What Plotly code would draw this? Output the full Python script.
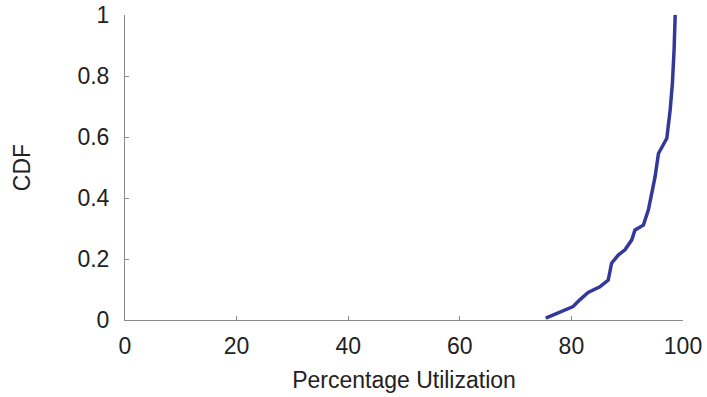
import plotly.graph_objects as go

# CDF of percentage utilization
utilization = [75.4, 77.6, 80.3, 81.5, 83.0, 85.1, 86.6, 87.2, 88.4, 89.6, 90.8,
               91.4, 92.9, 93.8, 94.4, 95.0, 95.6, 96.5, 97.1, 97.7, 98.1, 98.4, 98.6]
cdf = [0.006, 0.024, 0.044, 0.066, 0.090, 0.109, 0.131, 0.186, 0.213, 0.230, 0.262,
       0.295, 0.311, 0.361, 0.415, 0.470, 0.546, 0.579, 0.596, 0.689, 0.776, 0.885, 1.0]

x_ticks = [0, 20, 40, 60, 80, 100]
y_ticks = [0, 0.2, 0.4, 0.6, 0.8, 1]
y_tick_text = ["0", "0.2", "0.4", "0.6", "0.8", "1"]

font_family = "Liberation Sans, Arial, sans-serif"
text_font = dict(family=font_family, size=23, color="#222")

fig = go.Figure(go.Scatter(
    x=utilization, y=cdf, mode="lines",
    line=dict(color="#33399A", width=3.5),
    showlegend=False,
))

axis_common = dict(
    showline=True, linecolor="#8a8a8a", linewidth=1,
    ticks="inside", ticklen=4, tickcolor="#8a8a8a",
    showgrid=False, zeroline=False, automargin=False,
    tickfont=text_font,
)

fig.update_xaxes(
    range=[0, 100], tickvals=x_ticks, ticklabelstandoff=5,
    title=dict(text="Percentage Utilization", font=text_font, standoff=14),
    **axis_common,
)
fig.update_yaxes(
    range=[0, 1], tickvals=y_ticks, ticktext=y_tick_text, ticklabelstandoff=10,
    title=dict(text="CDF", font=text_font, standoff=40),
    **axis_common,
)

fig.update_layout(
    width=707, height=397,
    margin=dict(l=125, r=24, t=15, b=77),
    paper_bgcolor="white", plot_bgcolor="white",
)

fig.write_html("out.html")
